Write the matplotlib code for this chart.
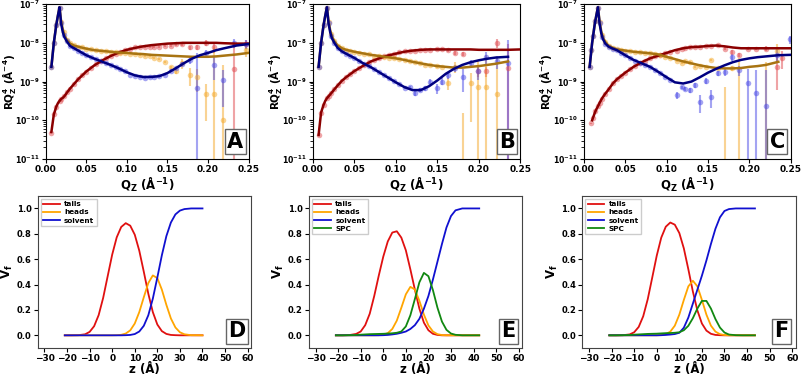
import numpy as np
import matplotlib
matplotlib.use('Agg')
import matplotlib.pyplot as plt

plt.rcParams['font.family'] = ['DejaVu Sans']
plt.rcParams['font.weight'] = 'bold'
plt.rcParams['axes.labelweight'] = 'bold'
plt.rcParams['mathtext.default'] = 'bf'
plt.rcParams['xtick.labelsize'] = 6.5
plt.rcParams['ytick.labelsize'] = 6.5

nan = float('nan')

# ---- reflectivity panels: values are log10(R*Qz^4), errors are relative ----
q_fit = [0.007, 0.010, 0.013, 0.015, 0.017, 0.019, 0.021, 0.023, 0.026, 0.030, 0.035, 0.040,
         0.050, 0.060, 0.070, 0.080, 0.090, 0.100, 0.110, 0.120, 0.130, 0.140, 0.150, 0.160,
         0.170, 0.180, 0.190, 0.200, 0.210, 0.220, 0.235, 0.250]

fit_red_A = [-10.30, -9.85, -9.65, -9.56, -9.50, -9.45, -9.42, -9.38, -9.29, -9.18, -9.06, -8.94,
             -8.74, -8.58, -8.45, -8.34, -8.25, -8.18, -8.13, -8.09, -8.06, -8.04, -8.02, -8.01,
             -8.00, -8.00, -8.00, -8.00, -8.00, -8.01, -8.02, -8.02]
fit_org_A = [-8.62, -8.00, -7.54, -7.30, -7.08, -7.45, -7.65, -7.80, -7.93, -8.02, -8.07, -8.10,
             -8.15, -8.19, -8.21, -8.23, -8.25, -8.26, -8.28, -8.29, -8.31, -8.32, -8.33, -8.34,
             -8.35, -8.36, -8.36, -8.36, -8.35, -8.33, -8.30, -8.26]
fit_blu_A = [-8.62, -8.00, -7.54, -7.30, -7.08, -7.50, -7.72, -7.85, -7.96, -8.08, -8.14, -8.20,
             -8.32, -8.41, -8.49, -8.57, -8.66, -8.76, -8.84, -8.88, -8.88, -8.86, -8.78, -8.66,
             -8.53, -8.41, -8.32, -8.26, -8.19, -8.14, -8.07, -8.03]

fit_red_B = [-10.38, -9.80, -9.60, -9.50, -9.43, -9.38, -9.33, -9.28, -9.20, -9.10, -8.98, -8.89,
             -8.73, -8.60, -8.48, -8.40, -8.33, -8.28, -8.23, -8.20, -8.18, -8.17, -8.17, -8.17,
             -8.17, -8.17, -8.17, -8.18, -8.18, -8.18, -8.18, -8.17]
fit_org_B = [-8.62, -8.00, -7.54, -7.30, -7.08, -7.45, -7.68, -7.83, -7.96, -8.07, -8.14, -8.18,
             -8.23, -8.27, -8.31, -8.34, -8.37, -8.40, -8.44, -8.49, -8.53, -8.57, -8.60, -8.62,
             -8.64, -8.64, -8.62, -8.60, -8.57, -8.54, -8.48, nan]
fit_blu_B = [-8.62, -8.00, -7.54, -7.30, -7.08, -7.50, -7.73, -7.88, -8.00, -8.13, -8.22, -8.28,
             -8.39, -8.52, -8.63, -8.76, -8.89, -9.02, -9.14, -9.22, -9.22, -9.12, -8.97, -8.80,
             -8.67, -8.57, -8.50, -8.45, -8.41, -8.38, -8.36, nan]

fit_red_C = [nan, -10.00, -9.82, -9.72, -9.64, -9.55, -9.47, -9.40, -9.31, -9.20, -9.05, -8.94,
             -8.77, -8.62, -8.50, -8.40, -8.33, -8.26, -8.19, -8.14, -8.11, -8.10, -8.08, -8.07,
             -8.09, -8.12, -8.14, -8.14, -8.14, -8.14, -8.14, -8.14]
fit_org_C = [-8.62, -8.00, -7.54, -7.30, -7.08, -7.45, -7.70, -7.86, -7.98, -8.08, -8.13, -8.17,
             -8.20, -8.23, -8.25, -8.27, -8.30, -8.36, -8.42, -8.48, -8.53, -8.58, -8.62, -8.65,
             -8.66, -8.66, -8.65, -8.62, -8.60, -8.57, -8.49, nan]
fit_blu_C = [-8.62, -8.00, -7.54, -7.30, -7.08, -7.50, -7.75, -7.90, -8.02, -8.10, -8.15, -8.19,
             -8.32, -8.44, -8.53, -8.62, -8.75, -8.89, -9.02, -9.05, -9.00, -8.89, -8.77, -8.67,
             -8.58, -8.50, -8.44, -8.40, -8.37, -8.35, -8.32, -8.31]

# measured points, panel A
q_A = [0.007, 0.010, 0.013, 0.017, 0.019, 0.022, 0.026, 0.030, 0.035, 0.040, 0.045, 0.050,
       0.056, 0.062, 0.068, 0.074, 0.080, 0.086, 0.092, 0.098, 0.104, 0.110,
       0.116, 0.122, 0.128, 0.134, 0.140, 0.147,
       0.154, 0.161, 0.168, 0.178, 0.187, 0.197, 0.207, 0.218, 0.232, 0.247]
red_A = [-10.33, -9.85, -9.65, -9.50, -9.45, -9.37, -9.28, -9.18, -9.06, -8.94, -8.84, -8.75,
         -8.64, -8.55, -8.47, -8.40, -8.34, -8.28, -8.23, -8.18, -8.15, -8.12,
         -8.11, -8.10, -8.11, -8.10, -8.10, -8.09,
         -8.07, -8.04, -8.03, -8.12, -8.12, -8.00, -8.12, nan, -8.68, -8.03]
red_A_err = [0.03, 0.03, 0.03, 0.03, 0.03, 0.03, 0.03, 0.03, 0.03, 0.03, 0.03, 0.03,
             0.04, 0.04, 0.04, 0.04, 0.04, 0.04, 0.04, 0.04, 0.04, 0.04,
             0.06, 0.06, 0.06, 0.06, 0.06, 0.06,
             0.08, 0.08, 0.10, 0.12, 0.15, 0.15, 0.30, 0.0, 3.8, 0.25]
org_A = [-8.62, -8.00, -7.54, -7.10, -7.45, -7.73, -7.92, -8.01, -8.06, -8.10, -8.12, -8.15,
         -8.17, -8.19, -8.20, -8.22, -8.23, -8.24, -8.25, -8.27, -8.28, -8.30,
         -8.31, -8.33, -8.35, -8.39, -8.42, -8.49,
         -8.63, -8.74, -8.52, -8.82, -8.87, -9.31, -9.31, -9.98, nan, -8.18]
org_A_err = [0.03, 0.03, 0.03, 0.03, 0.03, 0.03, 0.03, 0.03, 0.03, 0.03, 0.03, 0.03,
             0.04, 0.04, 0.04, 0.04, 0.04, 0.04, 0.04, 0.04, 0.04, 0.04,
             0.06, 0.06, 0.06, 0.06, 0.06, 0.06,
             0.10, 0.15, 0.30, 0.50, 0.60, 0.80, 15.0, 24.0, 0.0, 0.35]
blu_A = [-8.62, -8.00, -7.54, -7.10, -7.50, -7.80, -7.96, -8.08, -8.14, -8.20, -8.26, -8.32,
         -8.37, -8.42, -8.47, -8.52, -8.57, -8.62, -8.67, -8.74, -8.82, -8.86,
         -8.88, -8.90, -8.89, -8.88, -8.86, -8.82,
         -8.72, -8.66, -8.55, -8.45, -9.17, -8.27, -8.57, -8.96, -8.00, -8.03]
blu_A_err = [0.03, 0.03, 0.03, 0.03, 0.03, 0.03, 0.03, 0.03, 0.03, 0.03, 0.03, 0.03,
             0.04, 0.04, 0.04, 0.04, 0.04, 0.04, 0.04, 0.04, 0.04, 0.04,
             0.06, 0.06, 0.06, 0.06, 0.06, 0.06,
             0.08, 0.10, 0.12, 0.20, 6.9, 0.20, 0.60, 0.80, 0.25, 0.25]

# measured points, panel B
q_B = [0.007, 0.010, 0.013, 0.017, 0.019, 0.022, 0.026, 0.030, 0.035, 0.040, 0.045, 0.050,
       0.056, 0.062, 0.068, 0.074, 0.080, 0.086, 0.092, 0.098, 0.104, 0.111,
       0.117, 0.123, 0.129, 0.135, 0.141, 0.149,
       0.155, 0.163, 0.171, 0.181, 0.190, 0.199, 0.209, 0.222, 0.235]
red_B = [-10.38, -9.80, -9.60, -9.43, -9.38, -9.30, -9.20, -9.10, -8.98, -8.89, -8.81, -8.73,
         -8.65, -8.57, -8.50, -8.45, -8.40, -8.34, -8.31, -8.28, -8.24, -8.22,
         -8.20, -8.20, -8.19, -8.18, -8.18, -8.17,
         -8.17, -8.19, -8.26, -8.29, nan, -8.74, -8.74, -8.00, -8.64]
red_B_err = [0.03, 0.03, 0.03, 0.03, 0.03, 0.03, 0.03, 0.03, 0.03, 0.03, 0.03, 0.03,
             0.04, 0.04, 0.04, 0.04, 0.04, 0.04, 0.04, 0.04, 0.04, 0.04,
             0.06, 0.06, 0.06, 0.06, 0.06, 0.06,
             0.06, 0.08, 0.10, 0.12, 0.0, 0.30, 0.30, 0.25, 3.0]
org_B = [-8.62, -8.00, -7.54, -7.10, -7.45, -7.76, -7.96, -8.07, -8.14, -8.18, -8.21, -8.23,
         -8.26, -8.28, -8.30, -8.33, -8.34, -8.36, -8.38, -8.40, -8.43, -8.45,
         -8.48, -8.50, -8.52, -8.56, -8.58, -8.61,
         -8.62, -9.04, -8.62, -11.5, -9.05, -9.15, -9.15, -9.32, nan]
org_B_err = [0.03, 0.03, 0.03, 0.03, 0.03, 0.03, 0.03, 0.03, 0.03, 0.03, 0.03, 0.03,
             0.04, 0.04, 0.04, 0.04, 0.04, 0.04, 0.04, 0.04, 0.04, 0.04,
             0.06, 0.06, 0.06, 0.06, 0.06, 0.06,
             0.08, 0.35, 0.30, 49.0, 0.90, 4.0, 6.0, 8.0, 0.0]
blu_B = [-8.62, -8.00, -7.54, -7.10, -7.50, -7.82, -8.00, -8.13, -8.22, -8.28, -8.34, -8.39,
         -8.47, -8.54, -8.61, -8.68, -8.76, -8.84, -8.91, -8.99, -9.06, -9.17,
         -9.15, -9.30, -9.22, -9.17, -9.00, -9.17,
         -9.00, -8.83, -8.66, -8.87, -8.53, -8.74, -8.37, -8.48, -8.53]
blu_B_err = [0.03, 0.03, 0.03, 0.03, 0.03, 0.03, 0.03, 0.03, 0.03, 0.03, 0.03, 0.03,
             0.04, 0.04, 0.04, 0.04, 0.04, 0.04, 0.04, 0.04, 0.04, 0.04,
             0.10, 0.15, 0.12, 0.15, 0.15, 0.30,
             0.20, 0.20, 0.20, 0.60, 0.25, 0.40, 0.40, 0.35, 3.0]

# measured points, panel C
q_C = [0.007, 0.009, 0.011, 0.014, 0.017, 0.019, 0.022, 0.026, 0.030, 0.035,
       0.040, 0.045, 0.050, 0.056, 0.062, 0.068, 0.074, 0.080, 0.086, 0.092,
       0.098, 0.104, 0.112, 0.118, 0.122, 0.128, 0.134, 0.140, 0.147, 0.154,
       0.162, 0.170, 0.179, 0.188, 0.198, 0.208, 0.220, 0.233, 0.240, 0.249]
red_C = [nan, -10.08, -9.93, -9.76, -9.63, -9.55, -9.44, -9.31, -9.20, -9.05,
         -8.94, -8.85, -8.77, -8.68, -8.60, -8.52, -8.46, -8.40, -8.35, -8.31,
         -8.27, -8.23, -8.20, -8.15, -8.13, -8.12, -8.11, -8.10, -8.09, -8.09,
         -8.06, -8.15, -8.23, -8.31, -8.15, -8.15, -8.15, -8.62, -8.38, nan]
red_C_err = [0.03, 0.03, 0.03, 0.03, 0.03, 0.03, 0.03, 0.03, 0.03, 0.03,
             0.04, 0.04, 0.04, 0.04, 0.04, 0.04, 0.04, 0.04, 0.04, 0.04,
             0.06, 0.06, 0.06, 0.06, 0.06, 0.06, 0.06, 0.06, 0.06, 0.06,
             0.08, 0.08, 0.10, 0.10, 0.10, 0.10, 0.15, 0.75, 0.50, 0.0]
org_C = [-8.62, -8.18, -7.83, -7.43, -7.10, -7.45, -7.80, -7.98, -8.08, -8.13,
         -8.17, -8.18, -8.20, -8.22, -8.23, -8.24, -8.26, -8.27, -8.30, -8.32,
         -8.36, -8.40, -8.46, -8.53, -8.47, -8.50, -8.62, -8.60, -8.62, -8.45,
         -8.66, -11.5, -8.66, -11.5, nan, nan, -11.5, -8.20, nan, nan]
org_C_err = [0.03, 0.03, 0.03, 0.03, 0.03, 0.03, 0.03, 0.03, 0.03, 0.03,
             0.04, 0.04, 0.04, 0.04, 0.04, 0.04, 0.04, 0.04, 0.04, 0.04,
             0.06, 0.06, 0.06, 0.06, 0.06, 0.06, 0.06, 0.06, 0.06, 0.06,
             0.10, 233.0, 0.15, 1258.0, 0.0, 0.0, 999.0, 0.50, 0.0, 0.0]
blu_C = [-8.62, -8.18, -7.83, -7.43, -7.10, -7.50, -7.84, -8.02, -8.10, -8.15,
         -8.19, -8.26, -8.32, -8.39, -8.46, -8.51, -8.57, -8.62, -8.70, -8.78,
         -8.87, -8.95, -9.35, -9.15, -9.20, -9.22, -9.09, -9.52, -8.98, -9.39,
         -8.79, -8.75, -8.37, -8.70, -9.03, -9.30, -9.63, -8.31, nan, -7.91]
blu_C_err = [0.03, 0.03, 0.03, 0.03, 0.03, 0.03, 0.03, 0.03, 0.03, 0.03,
             0.04, 0.04, 0.04, 0.04, 0.04, 0.04, 0.04, 0.04, 0.04, 0.04,
             0.06, 0.06, 0.20, 0.10, 0.12, 0.15, 0.15, 0.50, 0.15, 0.50,
             0.15, 0.20, 0.20, 0.30, 1.2, 3.0, 7.5, 0.30, 0.0, 0.25]

# ---- volume fraction profiles ----
z_D = [-21, -18, -15, -12, -10, -8, -6, -4, -2, 0, 2, 4, 6, 8, 10, 12, 14, 16, 18, 20,
       22, 24, 26, 28, 30, 32, 35, 40]
tails_D = [0.0, 0.0, 0.001, 0.008, 0.027, 0.072, 0.159, 0.295, 0.466, 0.636, 0.772, 0.854,
           0.884, 0.864, 0.793, 0.667, 0.501, 0.328, 0.183, 0.085, 0.033, 0.011, 0.003, 0.001,
           0.0, 0.0, 0.0, 0.0]
heads_D = [0.0, 0.0, 0.0, 0.0, 0.0, 0.0, 0.0, 0.0, 0.0, 0.0, 0.001, 0.004, 0.014, 0.039,
           0.093, 0.183, 0.300, 0.412, 0.472, 0.451, 0.360, 0.240, 0.133, 0.062, 0.024, 0.008,
           0.001, 0.0]
solv_D = [0.0, 0.0, 0.0, 0.0, 0.0, 0.0, 0.0, 0.0, 0.0, 0.0, 0.0, 0.0, 0.001, 0.003, 0.010,
          0.030, 0.075, 0.158, 0.289, 0.456, 0.631, 0.782, 0.889, 0.953, 0.983, 0.995, 1.0, 1.0]

z_E = [-21, -18, -15, -12, -10, -8, -6, -4, -2, 0, 2, 4, 6, 8, 10, 12, 14, 16, 18, 20,
       22, 24, 26, 28, 30, 32, 35, 38, 42.5]
tails_E = [0.0, 0.0, 0.002, 0.011, 0.03, 0.08, 0.17, 0.31, 0.47, 0.62, 0.74, 0.81, 0.82,
           0.77, 0.67, 0.52, 0.36, 0.21, 0.10, 0.04, 0.012, 0.003, 0.0, 0.0, 0.0, 0.0, 0.0,
           0.0, 0.0]
heads_E = [0.0, 0.0, 0.0, 0.0, 0.0, 0.0, 0.0, 0.0, 0.001, 0.005, 0.017, 0.05, 0.116, 0.217,
           0.323, 0.382, 0.361, 0.272, 0.163, 0.078, 0.030, 0.009, 0.002, 0.0, 0.0, 0.0, 0.0,
           0.0, 0.0]
spc_E = [0.0, 0.0, 0.001, 0.002, 0.005, 0.007, 0.009, 0.010, 0.011, 0.012, 0.014, 0.016,
         0.02, 0.03, 0.07, 0.158, 0.286, 0.418, 0.492, 0.466, 0.356, 0.218, 0.108, 0.043,
         0.014, 0.004, 0.0, 0.0, 0.0]
solv_E = [0.0, 0.0, 0.0, 0.0, 0.0, 0.0, 0.0, 0.0, 0.0, 0.001, 0.003, 0.007, 0.012, 0.02,
          0.03, 0.05, 0.08, 0.13, 0.21, 0.31, 0.44, 0.58, 0.72, 0.85, 0.94, 0.985, 1.0, 1.0, 1.0]

z_F = [-21, -18, -15, -12, -10, -8, -6, -4, -2, 0, 2, 4, 6, 8, 10, 12, 14, 16, 18, 20,
       22, 24, 26, 28, 30, 32, 35, 38, 43.5]
tails_F = [0.0, 0.0, 0.001, 0.007, 0.024, 0.066, 0.150, 0.284, 0.455, 0.628, 0.770, 0.856,
           0.889, 0.872, 0.806, 0.685, 0.520, 0.345, 0.196, 0.093, 0.037, 0.012, 0.003, 0.001,
           0.0, 0.0, 0.0, 0.0, 0.0]
heads_F = [0.0, 0.0, 0.0, 0.0, 0.0, 0.0, 0.0, 0.0, 0.0, 0.0, 0.002, 0.009, 0.029, 0.076,
           0.163, 0.279, 0.386, 0.430, 0.386, 0.279, 0.163, 0.076, 0.029, 0.009, 0.002, 0.0,
           0.0, 0.0, 0.0]
spc_F = [0.0, 0.0, 0.001, 0.002, 0.005, 0.007, 0.009, 0.011, 0.012, 0.013, 0.015, 0.017,
         0.018, 0.020, 0.024, 0.040, 0.075, 0.135, 0.211, 0.271, 0.271, 0.211, 0.128, 0.061,
         0.022, 0.006, 0.001, 0.0, 0.0]
solv_F = [0.0, 0.0, 0.0, 0.0, 0.0, 0.0, 0.0, 0.0, 0.0, 0.0, 0.001, 0.003, 0.006, 0.01, 0.02,
          0.06, 0.14, 0.25, 0.36, 0.47, 0.59, 0.72, 0.84, 0.93, 0.98, 0.995, 1.0, 1.0, 1.0]

data_colors = ['#e04a4f', '#f4a92a', '#4a4ae6']
fit_colors = ['#8b0000', '#a87412', '#000080']


def letter_box(ax, letter):
    ax.text(0.935, 0.11, letter, transform=ax.transAxes, fontsize=15, fontweight='bold',
            ha='center', va='center',
            bbox=dict(boxstyle='square,pad=0.12', fc='white', ec='#666666', lw=1.0))


def refl_panel(ax, q, sets, fits, letter):
    for (vals, errs), c in zip(sets, data_colors):
        R = 10.0 ** np.array(vals)
        ax.errorbar(q, R, yerr=np.array(errs) * R, fmt='o', ms=4, mew=0, color=c,
                    alpha=0.5, elinewidth=1.5, capsize=0, zorder=2)
    for vals, c in zip(fits, fit_colors):
        ax.plot(q_fit, 10.0 ** np.array(vals), color=c, lw=1.8, zorder=3)
    ax.set_yscale('log')
    ax.set_ylim(1e-11, 1e-7)
    ax.set_xlim(0, 0.25)
    ax.set_xticks([0, 0.05, 0.10, 0.15, 0.20, 0.25])
    ax.set_xticklabels(['0.00', '0.05', '0.10', '0.15', '0.20', '0.25'])
    ax.set_xlabel(r'Q$_Z$ (Å$^{-1}$)', fontsize=8.5, labelpad=1)
    ax.set_ylabel(r'RQ$_Z^4$ (Å$^{-4}$)', fontsize=7.5)
    ax.yaxis.set_label_coords(-0.138, 0.5)
    ax.tick_params(length=3, pad=1.5)
    ax.tick_params(axis='y', labelsize=5.6)
    letter_box(ax, letter)


def vf_panel(ax, z, curves, letter):
    cols = {'tails': '#e01010', 'heads': '#ffa500', 'solvent': '#1010d0', 'SPC': '#118811'}
    for name, vals in curves:
        ax.plot(z, vals, color=cols[name], lw=1.3, label=name)
    ax.set_xlim(-33, 61.5)
    ax.set_ylim(-0.1, 1.1)
    ax.set_xticks(range(-30, 61, 10))
    ax.set_yticks([0.0, 0.2, 0.4, 0.6, 0.8, 1.0])
    ax.set_xlabel('z (Å)', fontsize=8.5, labelpad=0)
    ax.set_ylabel(r'V$_f$', fontsize=8.5)
    ax.yaxis.set_label_coords(-0.105, 0.5)
    ax.tick_params(length=3, pad=1.5)
    ax.tick_params(axis='y', labelsize=6)
    for s in ax.spines.values():
        s.set_color('#444444')
    ax.legend(loc='upper left', fontsize=5.2, handlelength=2.3, borderpad=0.35,
              labelspacing=0.3, handletextpad=0.6, framealpha=1, edgecolor='#cccccc',
              fancybox=False, borderaxespad=0.4)
    letter_box(ax, letter)


fig = plt.figure(figsize=(8.02, 3.75), dpi=100)
top_pos = [[0.057, 0.576, 0.253, 0.413], [0.390, 0.576, 0.259, 0.413], [0.728, 0.576, 0.258, 0.413]]
bot_pos = [[0.047, 0.072, 0.266, 0.406], [0.385, 0.072, 0.266, 0.406], [0.726, 0.072, 0.266, 0.406]]

axA = fig.add_axes(top_pos[0])
refl_panel(axA, q_A, [(red_A, red_A_err), (org_A, org_A_err), (blu_A, blu_A_err)],
           [fit_red_A, fit_org_A, fit_blu_A], 'A')
axB = fig.add_axes(top_pos[1])
refl_panel(axB, q_B, [(red_B, red_B_err), (org_B, org_B_err), (blu_B, blu_B_err)],
           [fit_red_B, fit_org_B, fit_blu_B], 'B')
axC = fig.add_axes(top_pos[2])
refl_panel(axC, q_C, [(red_C, red_C_err), (org_C, org_C_err), (blu_C, blu_C_err)],
           [fit_red_C, fit_org_C, fit_blu_C], 'C')

axD = fig.add_axes(bot_pos[0])
vf_panel(axD, z_D, [('tails', tails_D), ('heads', heads_D), ('solvent', solv_D)], 'D')
axE = fig.add_axes(bot_pos[1])
vf_panel(axE, z_E, [('tails', tails_E), ('heads', heads_E), ('solvent', solv_E), ('SPC', spc_E)], 'E')
axF = fig.add_axes(bot_pos[2])
vf_panel(axF, z_F, [('tails', tails_F), ('heads', heads_F), ('solvent', solv_F), ('SPC', spc_F)], 'F')

fig.savefig('out.png', dpi=100)
